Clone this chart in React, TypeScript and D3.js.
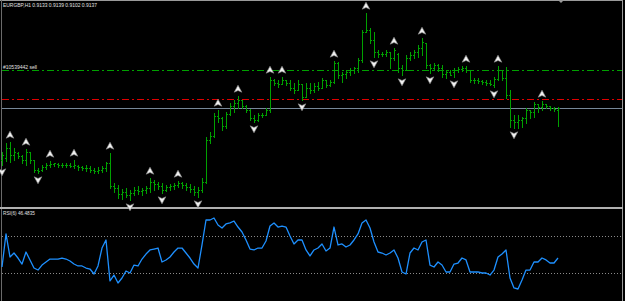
import React from "react";
import * as d3 from "d3";

// EURGBP H1 quotes, in points (price x 10000)
const openPts = [9033,9037,9057,9043,9047,9041,9033,9049,9033,9013,9013,9019,9023,9025,9025,9023,9023,9023,9021,9021,9019,9017,9017,9013,9011,9013,9017,9027,8981,8977,8965,8969,8963,8967,8973,8971,8973,8977,8989,8985,8981,8973,8979,8981,8983,8987,8983,8979,8975,8969,8973,8989,9073,9081,9121,9117,9101,9125,9141,9147,9153,9141,9133,9117,9113,9123,9123,9133,9193,9187,9185,9193,9187,9177,9173,9185,9159,9177,9173,9181,9177,9193,9183,9189,9227,9203,9205,9209,9213,9217,9233,9289,9293,9273,9249,9245,9245,9249,9237,9245,9217,9213,9237,9243,9249,9257,9267,9223,9217,9223,9217,9205,9209,9209,9213,9215,9217,9213,9193,9193,9191,9189,9187,9183,9195,9213,9197,9163,9113,9109,9113,9117,9133,9129,9145,9139,9145,9141,9137,9133];
const highPts = [9049,9067,9069,9057,9049,9043,9055,9049,9033,9017,9023,9027,9031,9027,9027,9027,9027,9027,9033,9023,9021,9023,9021,9017,9019,9021,9029,9047,8987,8983,8975,8977,8973,8979,8981,8977,8981,8997,8993,8989,8987,8983,8985,8987,8991,8989,8987,8985,8981,8979,8997,9079,9089,9127,9133,9119,9129,9147,9153,9161,9153,9143,9135,9123,9127,9127,9137,9199,9195,9193,9199,9193,9193,9187,9193,9185,9187,9187,9187,9189,9197,9193,9193,9231,9229,9209,9213,9217,9219,9237,9293,9327,9297,9289,9253,9249,9253,9249,9257,9247,9223,9243,9249,9253,9263,9277,9267,9225,9227,9225,9223,9213,9213,9217,9219,9221,9221,9213,9197,9197,9193,9193,9193,9199,9221,9213,9219,9173,9123,9123,9119,9137,9133,9149,9145,9151,9145,9141,9139,9139];
const lowPts = [9023,9031,9029,9033,9037,9027,9023,9027,9009,9007,9011,9015,9019,9021,9019,9019,9019,9019,9017,9013,9013,9011,9009,9007,9007,9009,9011,8977,8969,8957,8955,8959,8953,8963,8965,8963,8967,8969,8973,8975,8967,8971,8973,8975,8979,8977,8973,8969,8963,8959,8969,8987,9067,9079,9109,9093,9097,9123,9129,9137,9137,9129,9113,9109,9111,9119,9123,9129,9183,9179,9185,9183,9173,9167,9173,9153,9159,9167,9169,9173,9177,9179,9181,9187,9197,9189,9197,9203,9207,9209,9229,9289,9267,9239,9239,9241,9241,9217,9233,9209,9203,9213,9233,9237,9239,9243,9217,9207,9213,9211,9199,9197,9203,9199,9209,9211,9209,9189,9187,9187,9185,9183,9183,9179,9193,9193,9157,9099,9097,9097,9099,9107,9117,9119,9129,9133,9137,9133,9131,9102];
const closePts = [9043,9057,9043,9049,9041,9033,9049,9033,9013,9011,9019,9023,9025,9027,9023,9023,9023,9021,9023,9019,9017,9017,9013,9011,9013,9017,9027,8981,8977,8965,8969,8963,8967,8973,8971,8973,8977,8989,8985,8981,8973,8979,8981,8983,8987,8983,8979,8975,8969,8973,8989,9073,9081,9121,9117,9101,9125,9141,9147,9153,9141,9133,9117,9113,9123,9123,9133,9193,9187,9185,9193,9187,9177,9173,9185,9159,9177,9173,9181,9177,9193,9183,9189,9227,9203,9205,9209,9213,9217,9233,9289,9293,9273,9249,9245,9245,9249,9237,9253,9217,9213,9237,9243,9249,9257,9269,9223,9217,9223,9217,9205,9209,9203,9213,9215,9217,9213,9193,9193,9191,9189,9187,9185,9195,9213,9197,9163,9113,9109,9113,9117,9133,9129,9145,9139,9145,9141,9137,9135,9137];

// RSI(6) values per bar
const rsiValues = [36.5,72.2,47.3,51.6,46.2,39.7,52.7,44.1,35.4,33.2,38.6,41.9,45.1,45.1,45.1,46.2,45.1,43.0,39.7,37.6,37.6,35.4,34.3,28.9,37.6,57.0,65.7,21.4,27.8,19.2,24.6,32.2,30.0,38.6,37.6,45.1,50.5,54.9,55.9,57.0,41.9,44.1,47.3,52.7,57.0,57.0,51.6,46.2,39.7,35.4,60.3,87.3,87.3,89.5,81.9,78.6,83.0,84.1,86.2,79.7,74.3,65.7,55.9,54.9,57.0,57.0,64.6,80.8,84.1,79.7,80.8,79.7,70.0,61.4,65.7,65.7,54.9,48.4,54.9,57.0,61.4,53.8,57.0,79.7,60.3,61.4,58.1,60.3,65.7,72.2,84.1,87.3,78.6,63.5,52.7,51.6,49.5,51.6,54.9,46.2,31.1,28.9,51.6,57.0,54.9,63.5,65.7,38.6,36.5,41.9,38.6,31.1,31.1,39.7,40.8,46.2,44.1,31.1,31.1,31.1,30.0,30.0,27.8,33.2,47.3,50.5,54.9,24.6,13.8,12.7,22.4,33.2,33.2,41.9,41.9,46.2,44.1,40.8,40.8,46.2];

// Bill Williams fractals (bar indices)
const upFractals = [2,6,12,18,27,37,44,54,59,67,70,83,91,98,105,116,124,135];
const downFractals = [0,9,32,40,49,63,75,93,100,107,113,123,128];

// Horizontal levels (points)
const orderLevel = 9212; // #10539442 sell
const stopLevel = 9155;
const rsiLevels = [30, 70];

const headerText = "EURGBP,H1  0.9133 0.9139 0.9102 0.9137";
const orderText = "#10539442 sell";
const rsiText = "RSI(6) 46.4835";

const W = 625;
const H = 301;

export default function App() {
  const n = closePts.length;
  const x = d3.scaleLinear().domain([0, n - 1]).range([2, 558]);
  const y = d3.scaleLinear().domain([8939, 9353]).range([207, 0]);
  const yr = d3.scaleLinear().domain([0, 100]).range([300.75, 208.25]);
  const px = (i: number) => Math.round(x(i)) + 0.5;
  const py = (v: number) => Math.round(y(v)) + 0.5;

  const rsiLine = d3
    .line<number>()
    .x((_, i) => x(i))
    .y((d) => yr(d));

  const bidPts = closePts[n - 1];
  const upArrow = "M0,-3.8 L3.8,3.2 L0,1.5 L-3.8,3.2 Z";
  const downArrow = "M0,3.8 L3.8,-3.2 L0,-1.5 L-3.8,-3.2 Z";

  return (
    <div style={{ position: "fixed", left: 0, top: 0, width: W, height: H, background: "#000" }}>
      <svg width={W} height={H} style={{ display: "block" }} fontFamily="'Liberation Sans', Arial, sans-serif">
        <rect x={0} y={0} width={W} height={H} fill="#000" />
        {/* borders */}
        <line x1={0} x2={623} y1={0.5} y2={0.5} stroke="#9a9a9a" />
        <line x1={1.5} x2={1.5} y1={0} y2={H} stroke="#6a6a6a" />
        <line x1={622.5} x2={622.5} y1={0} y2={H} stroke="#9a9a9a" />
        <path d="M558,0 L564,0 L561,3 Z" fill="#9a9a9a" />

        {/* horizontal levels */}
        <g shapeRendering="crispEdges">
          <line x1={2} x2={622} y1={py(orderLevel)} y2={py(orderLevel)} stroke="#00a000" strokeDasharray="7,3,2,3" />
          <line x1={2} x2={622} y1={py(stopLevel)} y2={py(stopLevel)} stroke="#e00000" strokeDasharray="7,3,2,3" />
          <line x1={2} x2={622} y1={py(bidPts)} y2={py(bidPts)} stroke="#778899" />
        </g>

        {/* bars */}
        <g stroke="#00a000" strokeWidth={1} shapeRendering="crispEdges">
          {closePts.map((c, i) => {
            const cx = px(i);
            return (
              <g key={i}>
                <line x1={cx} x2={cx} y1={Math.round(y(highPts[i]))} y2={Math.round(y(lowPts[i])) + 1} />
                <line x1={cx - 1.5} x2={cx} y1={py(openPts[i])} y2={py(openPts[i])} />
                <line x1={cx} x2={cx + 1.5} y1={py(c)} y2={py(c)} />
              </g>
            );
          })}
        </g>

        {/* texts */}
        <text x={3} y={7} fontSize={5.2} fill="#e0e0e0" textLength={94} lengthAdjust="spacingAndGlyphs">{headerText}</text>
        <text x={3} y={69} fontSize={5.2} fill="#e0e0e0" textLength={34} lengthAdjust="spacingAndGlyphs">{orderText}</text>

        {/* separator */}
        <rect x={0} y={207} width={623} height={2} fill="#b0b0b0" />

        {/* RSI panel */}
        {rsiLevels.map((l) => (
          <line key={l} x1={2} x2={622} y1={Math.round(yr(l)) + 0.5} y2={Math.round(yr(l)) + 0.5} stroke="#8a8a8a" strokeDasharray="1,2" shapeRendering="crispEdges" />
        ))}
        <path d={rsiLine(rsiValues) || ""} fill="none" stroke="#1e90ff" strokeWidth={1.3} strokeLinejoin="round" />
        <text x={3} y={215} fontSize={5.2} fill="#e0e0e0" textLength={32} lengthAdjust="spacingAndGlyphs">{rsiText}</text>

        {/* fractals */}
        {upFractals.map((i) => (
          <path key={"u" + i} d={upArrow} transform={`translate(${x(i)},${y(highPts[i]) - 7})`} fill="#f0f0f0" stroke="#8c8c8c" strokeWidth={0.6} />
        ))}
        {downFractals.map((i) => (
          <path key={"d" + i} d={downArrow} transform={`translate(${x(i)},${y(lowPts[i]) + 7})`} fill="#f0f0f0" stroke="#8c8c8c" strokeWidth={0.6} />
        ))}
      </svg>
    </div>
  );
}
